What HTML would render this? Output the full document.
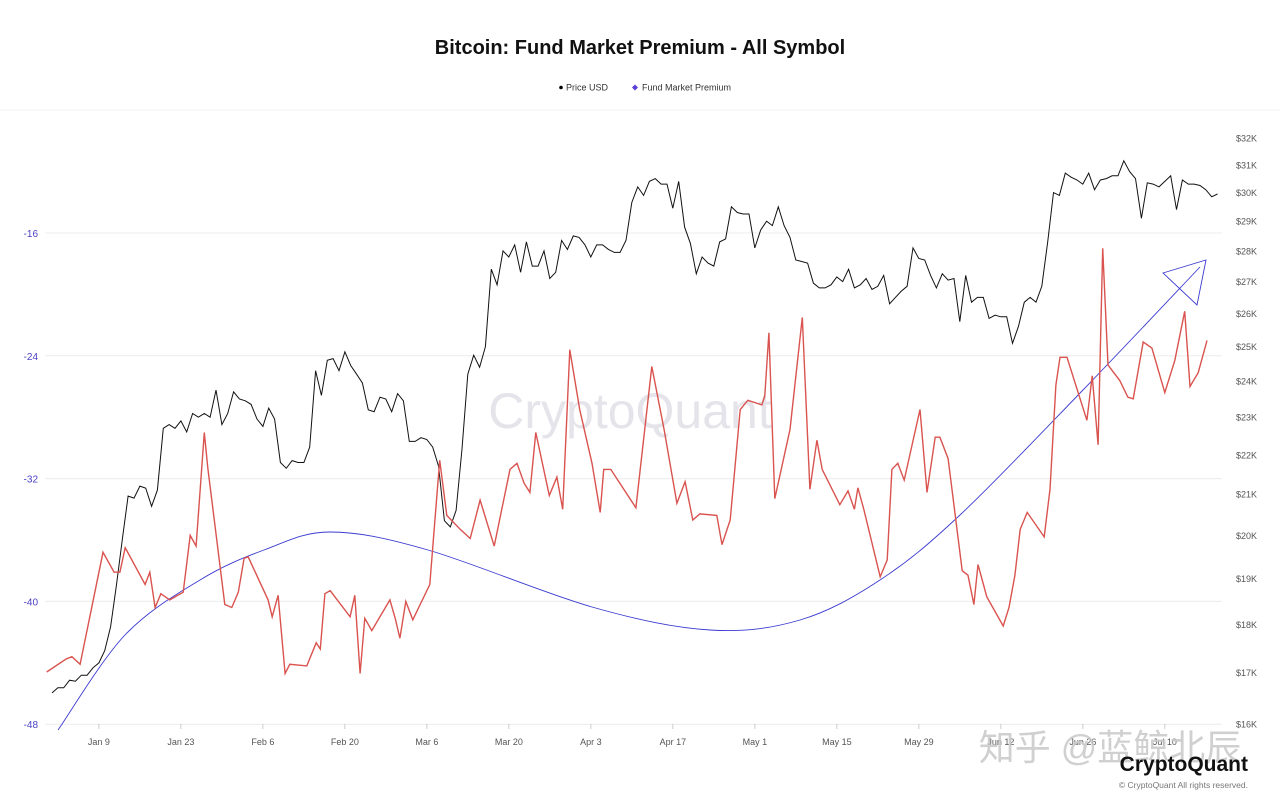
<!DOCTYPE html>
<html><head><meta charset="utf-8"><style>
body{margin:0;background:#fff;font-family:"Liberation Sans","Noto Sans CJK SC",sans-serif;}
svg text{font-family:"Liberation Sans","Noto Sans CJK SC",sans-serif;}
</style></head><body>
<svg id="c" width="1280" height="806" viewBox="0 0 1280 806">
<text x="640" y="54" text-anchor="middle" font-size="20" font-weight="bold" fill="#111">Bitcoin: Fund Market Premium - All Symbol</text>
<g>
<circle cx="561" cy="87.5" r="1.8" fill="#000"/>
<text x="566" y="90.5" font-size="9" fill="#333">Price USD</text>
<path d="M635 84.5 L638 87.5 L635 90.5 L632 87.5Z" fill="#5b3fd6"/>
<text x="642" y="90.5" font-size="9" fill="#333">Fund Market Premium</text>
</g>
<line x1="0" y1="110" x2="1280" y2="110" stroke="#f0f0f0"/>
<text x="630" y="428" text-anchor="middle" font-size="50" fill="#e4e4ea">CryptoQuant</text>
<g id="grid"></g><g id="axes"></g>
<path id="trend" fill="none" stroke="#3b3bd0" stroke-width="0.9"/>
<path d="M1163 273 L1206 260 L1197 305 Z" fill="none" stroke="#3b3bd0" stroke-width="0.9"/>
<path id="price" fill="none" stroke="#111" stroke-width="1"/>
<path id="prem" fill="none" stroke="#d9534f" stroke-width="1.4"/>
<text x="1110" y="760" text-anchor="middle" font-size="36" fill="#c8c8c8" opacity="0.85">知乎 @蓝鲸北辰</text>
<text x="1248" y="771" text-anchor="end" font-size="21" font-weight="bold" fill="#111">CryptoQuant</text>
<text x="1248" y="788" text-anchor="end" font-size="8.5" fill="#777">© CryptoQuant All rights reserved.</text>
</svg>
<script>
const priceK=[16.6,16.7,16.7,16.85,16.83,16.95,16.95,17.1,17.2,17.45,17.95,18.85,19.9,20.95,20.9,21.2,21.15,20.7,21.1,22.7,22.8,22.7,22.9,22.6,23.1,23.0,23.1,23.0,23.75,22.8,23.1,
23.7,23.5,23.45,23.35,22.95,22.75,23.25,22.95,21.8,21.65,21.85,21.8,21.8,22.2,24.3,23.6,24.6,24.65,24.3,24.85,24.45,24.2,23.95,23.2,23.15,23.55,23.5,23.15,
23.65,23.45,22.35,22.35,22.45,22.4,22.2,21.7,20.35,20.2,20.6,22.15,24.2,24.75,24.4,25.0,27.4,26.9,28.0,27.8,28.2,27.3,28.3,27.5,27.5,28.0,27.1,27.3,28.35,28.05,28.5,
28.45,28.2,27.8,28.2,28.2,28.05,27.95,27.95,28.35,29.65,30.2,29.9,30.4,30.5,30.3,30.3,29.45,30.4,28.8,28.25,27.25,27.8,27.6,27.5,28.3,28.4,29.5,29.3,29.25,29.25,
28.1,28.7,29.0,28.85,29.5,28.85,28.45,27.7,27.65,27.6,26.95,26.8,26.8,26.9,27.15,27.0,27.4,26.8,26.9,27.1,26.75,26.85,27.2,26.3,26.5,26.7,26.85,28.1,27.75,27.7,27.2,
26.8,27.25,27.05,27.1,25.75,27.2,26.35,26.5,26.5,25.85,25.95,25.9,25.9,25.1,25.6,26.35,26.5,26.35,26.85,28.3,30.0,29.9,30.7,30.55,30.45,30.3,30.7,30.1,30.45,30.5,
30.6,30.6,31.15,30.75,30.5,29.1,30.35,30.3,30.2,30.4,30.6,29.4,30.45,30.3,30.3,30.25,30.1,29.85,29.95];
const premDays=[-0.9,2.4,3.4,4.8,8.7,10.6,11.6,12.5,15.9,16.7,17.6,18.6,20.1,22.4,23.6,24.6,26.0,26.6,29.5,30.7,31.8,32.8,33.5,36.9,37.6,38.6,39.8,40.6,43.5,45.1,45.8,46.6,47.5,50.9,51.7,52.6,53.4,54.6,57.7,58.6,59.4,60.4,61.6,64.5,66.2,67.4,69.7,71.4,73.1,75.5,78.2,79.4,80.6,81.6,82.6,84.9,86.2,87.2,88.4,90.1,92.2,93.6,94.2,95.4,99.7,102.4,104.5,106.7,108.1,109.4,110.6,113.5,114.4,115.8,117.5,118.8,121.2,121.7,122.4,123.4,126.0,128.1,129.4,130.6,131.5,134.5,135.9,137.0,137.6,138.6,141.4,142.6,143.4,144.4,145.5,148.2,149.4,150.8,151.6,153.0,155.4,156.4,157.4,158.1,159.6,162.4,163.4,164.4,165.3,166.5,169.4,170.4,171.4,172.1,173.3,176.7,177.6,178.6,179.4,180.3,182.3,183.7,184.6,186.3,187.8,190.0,191.7,193.4,194.3,195.7,197.2];
const premVals=[-44.6,-43.75,-43.6,-44.1,-36.8,-38.1,-38.1,-36.5,-38.9,-38.1,-40.4,-39.5,-39.9,-39.4,-35.7,-36.4,-29.0,-31.3,-40.2,-40.4,-39.4,-37.2,-37.1,-39.9,-41.0,-39.6,-44.7,-44.1,-44.2,-42.7,-43.1,-39.5,-39.3,-41.0,-39.6,-44.7,-41.1,-41.9,-39.9,-41.1,-42.4,-40.0,-41.2,-38.9,-30.8,-34.4,-35.3,-35.9,-33.4,-36.4,-31.4,-31.0,-32.3,-32.9,-29.0,-33.1,-31.9,-34.0,-23.6,-27.5,-31.0,-34.2,-31.4,-31.4,-33.9,-24.7,-28.8,-33.6,-32.2,-34.7,-34.3,-34.4,-36.3,-34.7,-27.5,-26.9,-27.2,-26.6,-22.5,-33.3,-28.8,-21.5,-32.7,-29.5,-31.4,-33.7,-32.8,-34.0,-32.6,-34.0,-38.4,-37.3,-31.4,-31.0,-32.1,-27.5,-32.9,-29.3,-29.3,-30.7,-38.0,-38.3,-40.2,-37.6,-39.7,-41.6,-40.4,-38.3,-35.3,-34.2,-35.8,-32.7,-25.9,-24.1,-24.1,-28.2,-25.3,-29.8,-17.0,-24.6,-25.6,-26.7,-26.8,-23.1,-23.5,-26.4,-24.3,-21.1,-26.0,-25.1,-23.0];
const leftTicks=[-16,-24,-32,-40,-48];
const rightTicks=[16,17,18,19,20,21,22,23,24,25,26,27,28,29,30,31,32];
const xLabels=["Jan 9","Jan 23","Feb 6","Feb 20","Mar 6","Mar 20","Apr 3","Apr 17","May 1","May 15","May 29","Jun 12","Jun 26","Jul 10"];
const xDays=[8,22,36,50,64,78,92,106,120,134,148,162,176,190];
const X=d=>52+d*5.857;
const YL=v=>233+(-16-v)*15.35;
const YR=v=>724-Math.log(v/16)/Math.LN2*586;
const NS="http://www.w3.org/2000/svg";
const grid=document.getElementById('grid'),axes=document.getElementById('axes');
function mk(tag,attrs,parent){const e=document.createElementNS(NS,tag);for(const k in attrs)e.setAttribute(k,attrs[k]);parent.appendChild(e);return e;}
leftTicks.forEach(v=>{
 const l=mk('line',{x1:45,x2:1222,y1:YL(v),y2:YL(v),stroke:'#ececec'},grid);
 
 
 const t=mk('text',{x:38,y:YL(v)+4,'text-anchor':'end','font-size':10,fill:'#4a3fc4'},axes);
 t.textContent=v;
 
 
});
rightTicks.forEach(v=>{
 const t=mk('text',{x:1236,y:YR(v)+3.5,'font-size':9,fill:'#555'},axes);
 t.textContent='$'+v+'K';
 
 
});
xLabels.forEach((s,i)=>{
 const x=X(xDays[i]);
 const k=mk('line',{x1:x,x2:x,y1:724,y2:729,stroke:'#ccc'},axes);
 
 
 const t=mk('text',{x:x,y:745,'text-anchor':'middle','font-size':9,fill:'#555'},axes);
 t.textContent=s;
 
 
});
document.getElementById('price').setAttribute('d',priceK.map((v,i)=>(i?'L':'M')+X(i).toFixed(1)+' '+YR(v).toFixed(1)).join(' '));
document.getElementById('prem').setAttribute('d',premVals.map((v,i)=>(i?'L':'M')+X(premDays[i]).toFixed(1)+' '+YL(v).toFixed(1)).join(' '));
const tp=[[58,730],[125,635],[200,580],[264,550],[330,532],[428,550],[592,607],[710,630],[800,620],[880,580],[960,515],[1083,390],[1200,267]];
let d='M'+tp[0][0]+' '+tp[0][1];
for(let i=0;i<tp.length-1;i++){const p0=tp[Math.max(0,i-1)],p1=tp[i],p2=tp[i+1],p3=tp[Math.min(tp.length-1,i+2)];
 d+=` C${p1[0]+(p2[0]-p0[0])/6} ${p1[1]+(p2[1]-p0[1])/6} ${p2[0]-(p3[0]-p1[0])/6} ${p2[1]-(p3[1]-p1[1])/6} ${p2[0]} ${p2[1]}`;}
document.getElementById('trend').setAttribute('d',d);
</script>
</body></html>
